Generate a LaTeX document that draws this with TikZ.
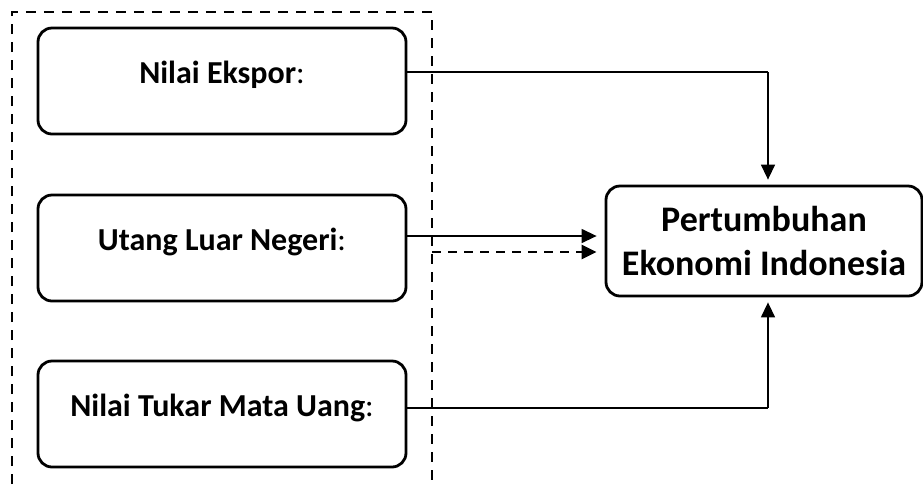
\documentclass[tikz,border=0pt]{standalone}
\usepackage{fontspec}
\setmainfont{Carlito}
\usepackage{tikz}
\usetikzlibrary{arrows.meta}

\begin{document}
\begin{tikzpicture}[
        x=0.5pt, y=-0.5pt,
        varbox/.style = {draw, line width=1.4pt, rounded corners=7pt, minimum width=184pt, minimum height=53pt,
            inner sep=0pt, text height=11pt, text depth=9pt, font=\fontsize{16}{19}\selectfont},
        hasilbox/.style = {draw, line width=1.4pt, rounded corners=7pt, minimum width=158pt, minimum height=55pt,
            inner sep=0pt, align=center, font=\fontsize{18}{22}\selectfont\bfseries},
        frame/.style = {line width=1.3pt, dash pattern=on 5pt off 4pt},
        hline/.style = {line width=1.3pt},
        arr/.style = {-{Triangle[length=7.5pt,width=7pt]}, line width=0.7pt, shorten >=2.5pt},
    ]
    \clip (0,0) rectangle (923,484);
    % kotak putus-putus
    \draw[frame] (12,520) -- (12,12) -- (432,12) -- (432,520);
    % variabel
    \node[varbox] (ekspor) at (222,81) {\textbf{Nilai Ekspor}:};
    \node[varbox] (utang) at (222,248) {\textbf{Utang Luar Negeri}:};
    \node[varbox] (kurs) at (222,414) {\textbf{Nilai Tukar Mata Uang}:};
    \node[hasilbox] (tumbuh) at (764,241) {Pertumbuhan\\Ekonomi Indonesia};
    % Nilai Ekspor
    \coordinate (k1) at (768,72);
    \draw[hline] (ekspor.east |- k1) -- (k1);
    \draw[arr] (k1) -- (tumbuh.north -| k1);
    % Utang Luar Negeri
    \coordinate (k2) at (406,236);
    \coordinate (d2) at (432,252);
    \draw[arr, shorten >=4pt] (utang.east |- k2) -- (tumbuh.west |- k2);
    \draw[arr, line width=1.3pt, dash pattern=on 4.5pt off 3.5pt, shorten >=4pt] (d2) -- (tumbuh.west |- d2);
    % Nilai Tukar Mata Uang
    \coordinate (k3) at (768,408);
    \draw[hline] (kurs.east |- k3) -- (k3);
    \draw[arr] (k3) -- (tumbuh.south -| k3);
\end{tikzpicture}
\end{document}
